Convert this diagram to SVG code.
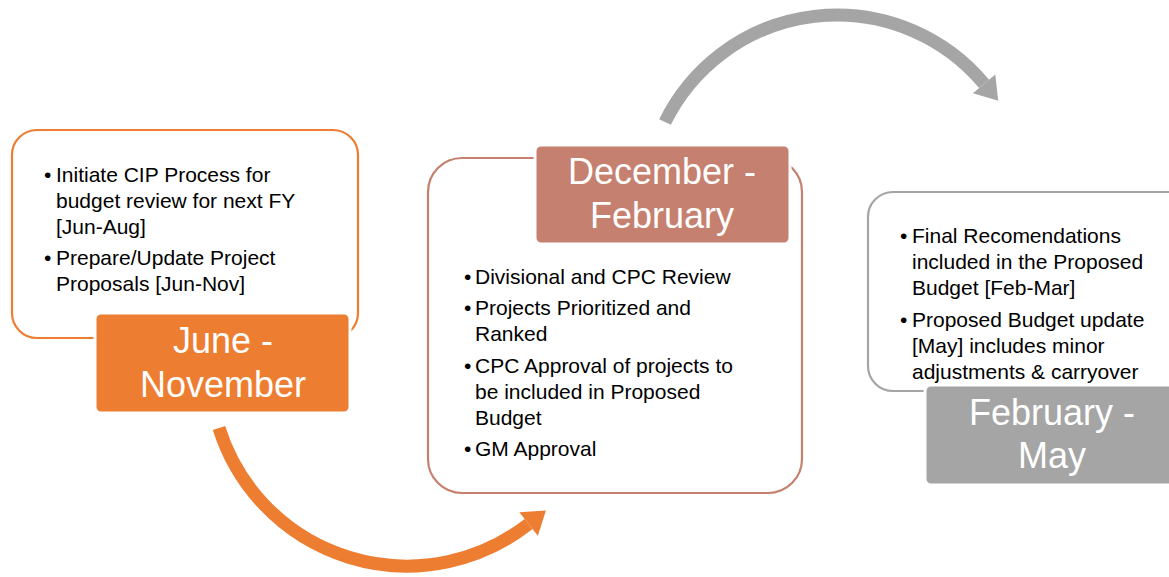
<svg xmlns="http://www.w3.org/2000/svg" width="1169" height="577" viewBox="0 0 1169 577">
<style>
.body{font-family:"Liberation Sans",Arial,sans-serif;font-size:21px;fill:#000}
.lab{font-family:"Liberation Sans",Arial,sans-serif;font-size:36px;fill:#fff;text-anchor:middle}
.outline{fill:#fff;stroke-width:2.2}
.tag{stroke:#fff;stroke-width:3}
</style>
<rect width="1169" height="577" fill="#fff"/>
<g id="connectors">
  <path d="M219 428 A197 197 0 0 0 528.6 524" fill="none" stroke="#ED7D31" stroke-width="13"/>
  <polygon points="545.9,510.4 537.9,535.8 519.3,512.2" fill="#ED7D31"/>
  <path d="M665 122 A191.7 191.7 0 0 1 984.1 83.8" fill="none" stroke="#A5A5A5" stroke-width="13"/>
  <polygon points="998.2,100.7 995.3,74.4 972.9,93.2" fill="#A5A5A5"/>
</g>
<g id="node-june-november">
  <rect class="outline" x="12" y="130" width="346" height="208" rx="25" stroke="#ED7D31"/>
  <text class="body" x="44" y="182">•</text>
  <text class="body" x="56" y="182">Initiate CIP Process for</text>
  <text class="body" x="56" y="208">budget review for next FY</text>
  <text class="body" x="56" y="234">[Jun-Aug]</text>
  <text class="body" x="44" y="265">•</text>
  <text class="body" x="56" y="265">Prepare/Update Project</text>
  <text class="body" x="56" y="291">Proposals [Jun-Nov]</text>
  <rect class="tag" x="95" y="313" width="255" height="100" rx="6" fill="#ED7D31"/>
  <text class="lab" x="223" y="353">June -</text>
  <text class="lab" x="223" y="397">November</text>
</g>
<g id="node-december-february">
  <rect class="outline" x="428" y="158" width="374" height="335" rx="34" stroke="#C5806F"/>
  <rect class="tag" x="535" y="145" width="255" height="99" rx="6" fill="#C5806F"/>
  <text class="lab" x="662" y="184">December -</text>
  <text class="lab" x="662" y="228">February</text>
  <text class="body" x="464" y="284">•</text>
  <text class="body" x="475" y="284">Divisional and CPC Review</text>
  <text class="body" x="464" y="315">•</text>
  <text class="body" x="475" y="315">Projects Prioritized and</text>
  <text class="body" x="475" y="341">Ranked</text>
  <text class="body" x="464" y="373">•</text>
  <text class="body" x="475" y="373">CPC Approval of projects to</text>
  <text class="body" x="475" y="399">be included in Proposed</text>
  <text class="body" x="475" y="425">Budget</text>
  <text class="body" x="464" y="456">•</text>
  <text class="body" x="475" y="456">GM Approval</text>
</g>
<g id="node-february-may">
  <rect class="outline" x="868" y="192" width="330" height="199" rx="25" stroke="#A5A5A5"/>
  <text class="body" x="900" y="243">•</text>
  <text class="body" x="912" y="243">Final Recomendations</text>
  <text class="body" x="912" y="269">included in the Proposed</text>
  <text class="body" x="912" y="295">Budget [Feb-Mar]</text>
  <text class="body" x="900" y="327">•</text>
  <text class="body" x="912" y="327">Proposed Budget update</text>
  <text class="body" x="912" y="353">[May] includes minor</text>
  <text class="body" x="912" y="379">adjustments &amp; carryover</text>
  <rect class="tag" x="925" y="385" width="260" height="100" rx="6" fill="#A5A5A5"/>
  <text class="lab" x="1052" y="425">February -</text>
  <text class="lab" x="1052" y="468">May</text>
</g>
</svg>
